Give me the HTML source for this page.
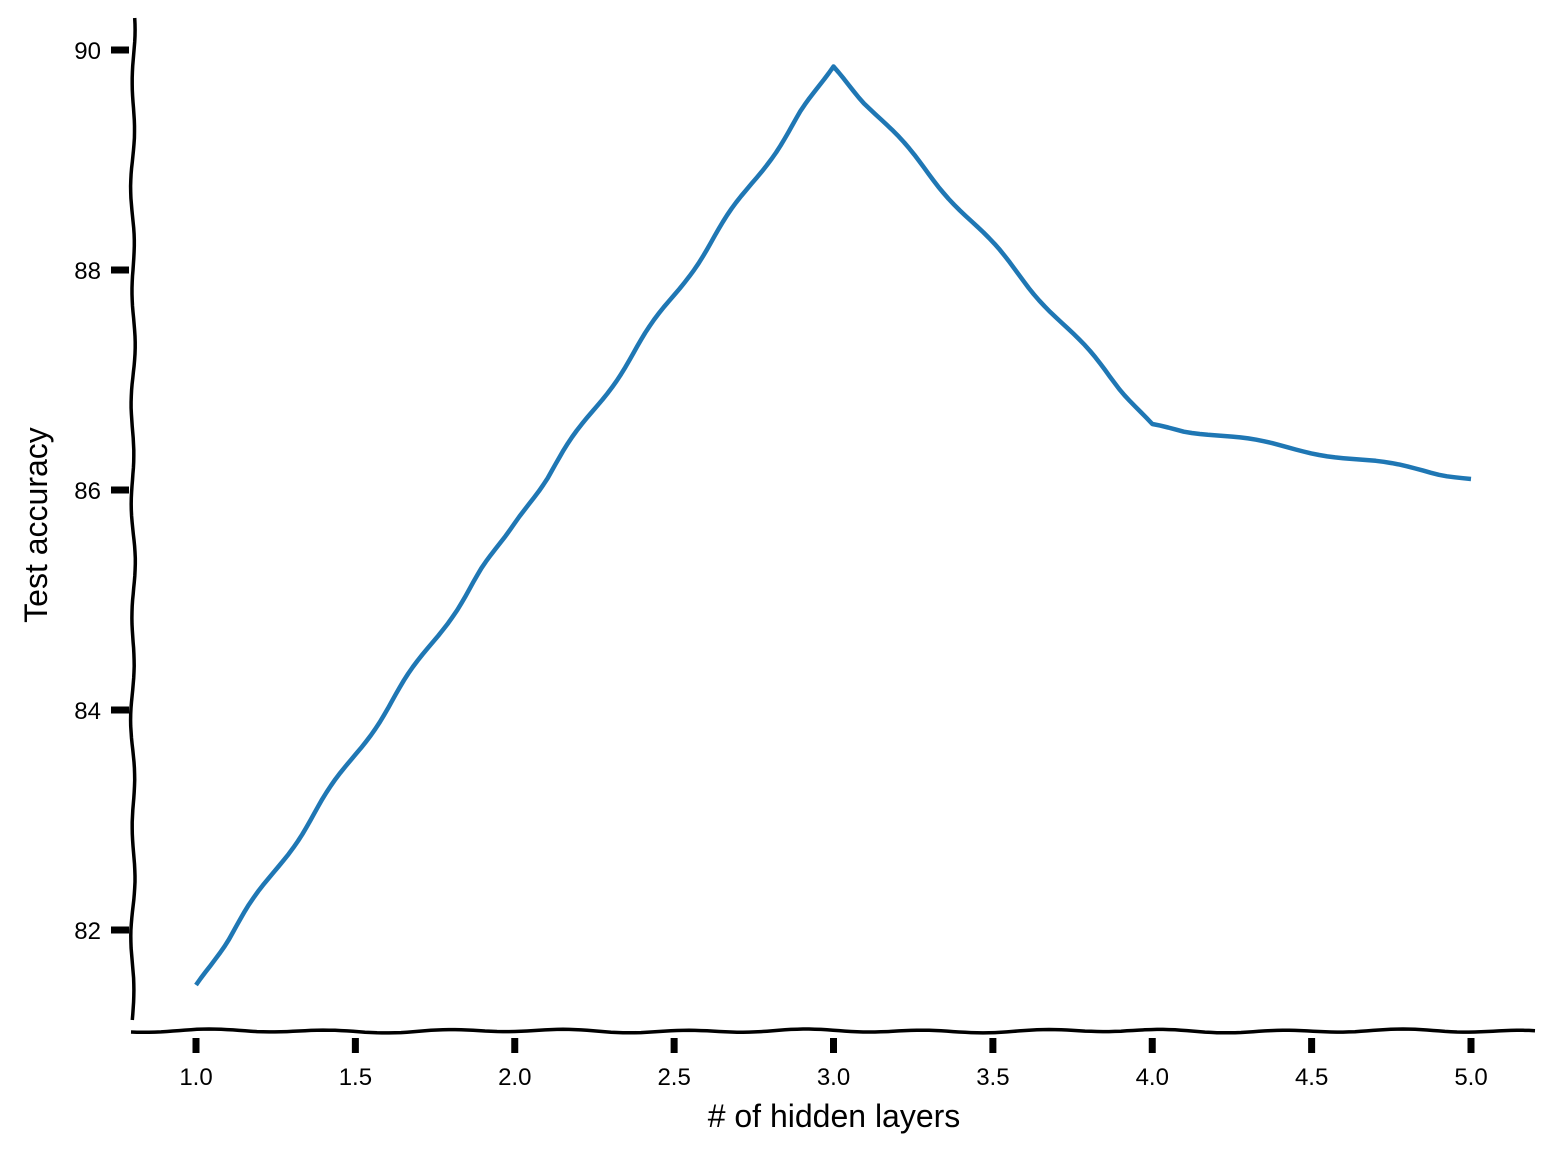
<!DOCTYPE html>
<html><head><meta charset="utf-8"><style>
html,body{margin:0;padding:0;background:#fff;}
svg{display:block;}
text{font-family:"Liberation Sans",sans-serif;fill:#000;}
</style></head>
<body>
<svg id="chart" width="1555" height="1155" viewBox="0 0 1555 1155" xmlns="http://www.w3.org/2000/svg"></svg>
<script>
const categories = [1, 2, 3, 4, 5];
const accuracy = [81.5, 85.7, 89.85, 86.6, 86.1];
const xTicks = [1.0, 1.5, 2.0, 2.5, 3.0, 3.5, 4.0, 4.5, 5.0];
const xTickLabels = ["1.0","1.5","2.0","2.5","3.0","3.5","4.0","4.5","5.0"];
const yTicks = [82, 84, 86, 88, 90];
const yTickLabels = ["82","84","86","88","90"];

const NS = "http://www.w3.org/2000/svg";
const svg = document.getElementById('chart');
function xs(v){ return 196 + (v - 1) * 318.75; }
function ys(v){ return 50 + (90 - v) * 110; }
function mk(tag, attrs){ const e = document.createElementNS(NS, tag); for (const k in attrs) e.setAttribute(k, attrs[k]); svg.appendChild(e); return e; }

let d = "";
for (let y = 18; y <= 1025; y += 6) { const x = 133 + 1.6*Math.sin(y/17) + 0.8*Math.sin(y/41); d += (y===18?"M":"L") + x.toFixed(1) + " " + y + " "; }
let ys_ = mk('path', {d: d, fill: 'none', stroke: '#000', 'stroke-width': 3.5});


d = "";
for (let x = 131; x <= 1537; x += 6) { const y = 1031 + 1.3*Math.sin(x/19) + 0.7*Math.sin(x/47); d += (x===131?"M":"L") + x + " " + y.toFixed(1) + " "; }
let xsp = mk('path', {d: d, fill: 'none', stroke: '#000', 'stroke-width': 3.5});



xTicks.forEach((t, i) => {
  const r = mk('rect', {x: xs(t) - 3.5, y: 1038, width: 7, height: 15, fill: '#000'});
  
  
  const tx = mk('text', {x: xs(t), y: 1085, 'text-anchor': 'middle', 'font-size': 24});
  tx.textContent = xTickLabels[i];
  
  
});
yTicks.forEach((t, i) => {
  const r = mk('rect', {x: 111, y: ys(t) - 3.5, width: 18, height: 7, fill: '#000'});
  
  
  const tx = mk('text', {x: 101, y: ys(t) + 9, 'text-anchor': 'end', 'font-size': 24});
  tx.textContent = yTickLabels[i];
  
  
});

let pd = "";
for (let i = 0; i < categories.length - 1; i++) {
  const x0 = xs(categories[i]), y0 = ys(accuracy[i]), x1 = xs(categories[i+1]), y1 = ys(accuracy[i+1]);
  const len = Math.hypot(x1-x0, y1-y0), nx = -(y1-y0)/len, ny = (x1-x0)/len;
  const n = Math.max(2, Math.round(len/8));
  for (let k = 0; k <= n; k++) {
    const f = k/n, w = 2.2*Math.sin(f*len/22) * Math.min(1, f*10, (1-f)*10);
    const px = x0 + (x1-x0)*f + nx*w, py = y0 + (y1-y0)*f + ny*w;
    pd += (pd ? "L" : "M") + px.toFixed(1) + " " + py.toFixed(1) + " ";
  }
}
const line = mk('path', {d: pd, fill: 'none', stroke: '#1f77b4', 'stroke-width': 4.5, 'stroke-linejoin': 'round'});



const xl = mk('text', {x: 834, y: 1127, 'text-anchor': 'middle', 'font-size': 32});
xl.textContent = "# of hidden layers";


const yl = mk('text', {x: 0, y: 0, 'text-anchor': 'middle', 'font-size': 32, transform: 'translate(47,525) rotate(-90)'});
yl.textContent = "Test accuracy";


</script>
</body></html>
